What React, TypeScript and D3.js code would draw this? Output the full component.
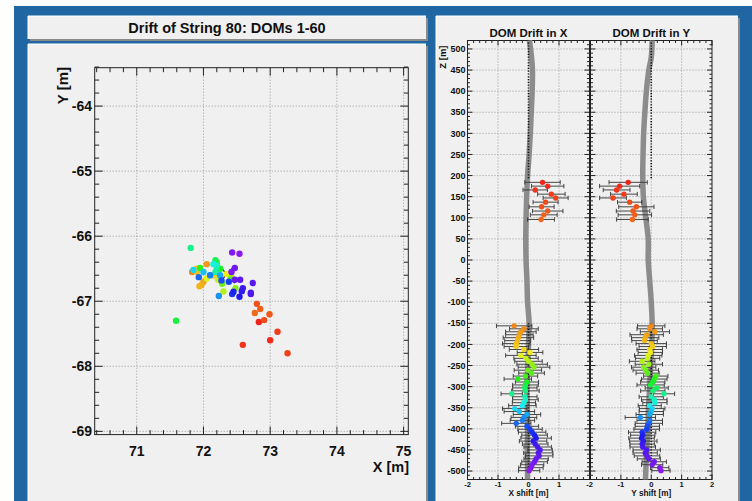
import React, { useEffect, useRef } from 'react';
import * as d3 from 'd3';

// DOM depths (z, metres): 10 upper DeepCore DOMs, then 50 lower ones
const domZ = [
  184, 175, 166, 156, 147, 137, 126, 116, 107, 96,
  -156, -163, -170, -177, -184, -191, -198, -205, -212, -219,
  -226, -233, -240, -247, -254, -261, -268, -275, -282, -289,
  -296, -303, -310, -317, -324, -331, -338, -345, -352, -359,
  -366, -373, -380, -387, -394, -401, -408, -415, -422, -429,
  -436, -443, -450, -457, -464, -471, -478, -485, -492, -499,
];

const xShift = [
  0.46, 0.63, 0.22, 0.75, 0.89, 0.56, 0.43, 0.63, 0.5, 0.41,
  -0.47, -0.15, -0.25, -0.3, -0.33, -0.36, -0.4, -0.4, -0.15, 0.05,
  -0.25, -0.08, 0.0, 0.12, 0.18, -0.02, 0.1, -0.1, -0.35, -0.05,
  -0.1, -0.12, -0.1, -0.55, -0.12, -0.1, -0.15, -0.2, -0.45, -0.3,
  -0.05, -0.15, -0.2, -0.4, -0.05, 0.05, 0.12, 0.2, 0.25, 0.15,
  0.22, 0.3, 0.38, 0.32, 0.35, 0.25, 0.2, 0.12, 0.08, 0.02,
];
const xErr = [
  0.58, 0.53, 0.4, 0.45, 0.41, 0.41, 0.41, 0.5, 0.44, 0.44,
  0.58, 0.47, 0.5, 0.45, 0.5, 0.42, 0.45, 0.4, 0.48, 0.42,
  0.5, 0.4, 0.45, 0.5, 0.52, 0.45, 0.42, 0.4, 0.45, 0.38,
  0.42, 0.4, 0.45, 0.35, 0.4, 0.42, 0.38, 0.45, 0.4, 0.5,
  0.45, 0.42, 0.4, 0.48, 0.38, 0.4, 0.45, 0.42, 0.5, 0.45,
  0.42, 0.45, 0.4, 0.48, 0.45, 0.4, 0.42, 0.38, 0.4, 0.35,
];
const yShift = [
  -0.76, -1.04, -1.14, -0.9, -1.26, -0.71, -0.49, -0.6, -0.54, -0.62,
  0.0, -0.05, 0.12, -0.15, -0.2, -0.22, 0.0, 0.05, -0.05, -0.03,
  -0.1, -0.12, -0.3, -0.08, -0.25, -0.18, -0.12, 0.15, 0.1, 0.05,
  -0.02, 0.18, 0.05, 0.42, 0.0, 0.1, 0.12, -0.05, 0.03, 0.0,
  -0.05, -0.36, -0.05, -0.08, -0.13, -0.15, -0.3, -0.28, -0.32, -0.26,
  -0.3, -0.28, -0.15, -0.2, -0.14, -0.08, 0.1, 0.03, 0.28, 0.32,
];
const yErr = [
  0.63, 0.66, 0.44, 0.44, 0.44, 0.4, 0.58, 0.55, 0.55, 0.52,
  0.45, 0.42, 0.48, 0.55, 0.45, 0.42, 0.5, 0.45, 0.42, 0.4,
  0.45, 0.4, 0.42, 0.45, 0.4, 0.42, 0.38, 0.4, 0.42, 0.4,
  0.45, 0.38, 0.4, 0.35, 0.4, 0.42, 0.4, 0.38, 0.42, 0.4,
  0.45, 0.5, 0.42, 0.45, 0.4, 0.42, 0.45, 0.4, 0.42, 0.45,
  0.4, 0.42, 0.45, 0.4, 0.42, 0.38, 0.4, 0.35, 0.3, 0.3,
];

// absolute DOM positions for the top view
const posX = [
  72.83, 73.0, 72.59, 73.11, 73.26, 72.91, 72.8, 72.99, 72.85, 72.77,
  71.83, 72.15, 72.05, 72.0, 71.97, 71.94, 71.9, 71.9, 72.15, 72.35,
  72.05, 72.22, 72.3, 72.42, 72.48, 72.28, 72.4, 72.2, 71.95, 72.25,
  71.59, 72.18, 72.2, 71.81, 72.18, 72.2, 72.15, 72.1, 71.85, 72.0,
  72.25, 72.23, 72.1, 71.93, 72.27, 72.38, 72.43, 72.45, 72.54, 72.575,
  72.59, 72.71, 72.71, 72.74, 72.55, 72.47, 72.47, 72.42, 72.43, 72.54,
];
const posY = [
  -67.32, -67.6, -67.67, -67.47, -67.8, -67.29, -67.04, -67.2, -67.12, -67.18,
  -66.55, -66.6, -66.43, -66.7, -66.75, -66.77, -66.55, -66.5, -66.6, -66.58,
  -66.65, -66.67, -66.85, -66.63, -66.8, -66.73, -66.67, -66.4, -66.49, -66.5,
  -67.3, -66.37, -66.5, -66.18, -66.55, -66.45, -66.43, -66.6, -66.52, -66.55,
  -66.6, -66.92, -66.6, -66.63, -66.68, -66.7, -66.89, -66.855, -66.93, -66.845,
  -66.8, -66.89, -66.87, -66.72, -66.67, -66.67, -66.49, -66.55, -66.25, -66.27,
];
const nominalXY = [72.35, -66.585];

// fitted string shape (grey band)
const bandZ = [520, 480, 450, 400, 350, 300, 250, 200, 150, 100, 50, 0, -50, -100, -150, -200, -250, -300, -350, -400, -450, -500, -520];
const bandX = [0.03, 0.1, 0.13, 0.12, 0.09, 0.06, 0.02, -0.03, -0.06, -0.08, -0.09, -0.08, -0.05, -0.03, 0.02, 0.0, -0.02, -0.05, -0.04, -0.03, -0.04, -0.03, -0.03];
const bandY = [0.03, 0.0, -0.08, -0.16, -0.21, -0.25, -0.27, -0.28, -0.26, -0.18, -0.1, -0.1, -0.05, 0.0, 0.03, 0.02, -0.02, -0.05, -0.09, -0.11, -0.15, -0.18, -0.19];

const leftXTicks = [71, 72, 73, 74, 75];
const leftYTicks = [-64, -65, -66, -67, -68, -69];
const zTicks = [500, 450, 400, 350, 300, 250, 200, 150, 100, 50, 0, -50, -100, -150, -200, -250, -300, -350, -400, -450, -500];
const shiftTicksX = [-2, -1, 0, 1];
const shiftTicksY = [-2, -1, 0, 1, 2];

const FONT = "'Liberation Sans', Arial, Helvetica, sans-serif";
const PAD = '#f0f0f0';

const hue = d3.scaleLinear()
  .domain([0, 9, 10, 18, 28, 36, 44, 50, 59])
  .range([3, 22, 30, 52, 115, 175, 225, 250, 272]);
const domColor = (i: number) => d3.hsl(hue(i), 0.88, 0.52).formatHex();

const App: React.FC = () => {
  const svgRef = useRef<SVGSVGElement>(null);

  useEffect(() => {
    if (!svgRef.current) return;
    const svg = d3.select(svgRef.current);
    svg.selectAll('*').remove();

    // canvas background
    svg.append('rect').attr('width', 752).attr('height', 501).attr('fill', '#fff');
    svg.append('rect').attr('x', 14).attr('y', 6).attr('width', 738).attr('height', 495).attr('fill', '#1f66a3');

    const pane = (x: number, y: number, w: number, h: number) => {
      svg.append('rect').attr('x', x + 2).attr('y', y + 2).attr('width', w).attr('height', h).attr('fill', '#8a8a8a');
      svg.append('rect').attr('x', x).attr('y', y).attr('width', w).attr('height', h).attr('fill', PAD);
      svg.append('path').attr('d', `M${x},${y + h}V${y}H${x + w}`).attr('stroke', '#fff').attr('fill', 'none');
    };
    pane(28, 16, 398, 23);
    pane(28, 44, 398, 470);
    pane(436, 16, 302, 500);

    svg.append('text').attr('x', 227).attr('y', 33).attr('text-anchor', 'middle')
      .attr('font-family', FONT).attr('font-weight', 'bold').attr('font-size', 14.5).attr('fill', '#111')
      .text('Drift of String 80: DOMs 1-60');

    // ---------- left: top view ----------
    const lx = d3.scaleLinear().domain([70.37, 75.07]).range([94.7, 408.3]);
    const ly = d3.scaleLinear().domain([-69.05, -63.41]).range([434.6, 67.7]);
    const L = svg.append('g');
    const [x0, x1] = lx.range();
    const [y1, y0] = ly.range();

    leftXTicks.forEach(t => {
      L.append('line').attr('x1', lx(t)).attr('x2', lx(t)).attr('y1', y0).attr('y2', y1)
        .attr('stroke', '#999').attr('stroke-dasharray', '1,2');
    });
    leftYTicks.forEach(t => {
      L.append('line').attr('x1', x0).attr('x2', x1).attr('y1', ly(t)).attr('y2', ly(t))
        .attr('stroke', '#999').attr('stroke-dasharray', '1,2');
    });

    const minorX = d3.range(352, 376).map(v => v / 5);
    const minorY = d3.range(-345, -316).map(v => v / 5);
    minorX.forEach(t => {
      const len = Number.isInteger(Math.round(t * 1000) / 1000) ? 8 : 4.5;
      L.append('line').attr('x1', lx(t)).attr('x2', lx(t)).attr('y1', y1).attr('y2', y1 - len).attr('stroke', '#222');
      L.append('line').attr('x1', lx(t)).attr('x2', lx(t)).attr('y1', y0).attr('y2', y0 + len).attr('stroke', '#222');
    });
    minorY.forEach(t => {
      const len = Number.isInteger(Math.round(t * 1000) / 1000) ? 8 : 4.5;
      L.append('line').attr('y1', ly(t)).attr('y2', ly(t)).attr('x1', x0).attr('x2', x0 + len).attr('stroke', '#222');
      L.append('line').attr('y1', ly(t)).attr('y2', ly(t)).attr('x1', x1).attr('x2', x1 - len).attr('stroke', '#222');
    });
    L.append('rect').attr('x', x0).attr('y', y0).attr('width', x1 - x0).attr('height', y1 - y0)
      .attr('fill', 'none').attr('stroke', '#222');

    leftXTicks.forEach(t => {
      L.append('text').attr('x', lx(t)).attr('y', 456).attr('text-anchor', 'middle')
        .attr('font-family', FONT).attr('font-weight', 'bold').attr('font-size', 14).attr('fill', '#111').text(t);
    });
    leftYTicks.forEach(t => {
      L.append('text').attr('x', 92).attr('y', ly(t)).attr('dy', '0.36em').attr('text-anchor', 'end')
        .attr('font-family', FONT).attr('font-weight', 'bold').attr('font-size', 14).attr('fill', '#111').text(t);
    });
    L.append('text').attr('x', 409).attr('y', 472).attr('text-anchor', 'end')
      .attr('font-family', FONT).attr('font-weight', 'bold').attr('font-size', 14.5).attr('fill', '#111').text('X [m]');
    L.append('text').attr('transform', 'translate(68,67) rotate(-90)').attr('text-anchor', 'end')
      .attr('font-family', FONT).attr('font-weight', 'bold').attr('font-size', 15).attr('fill', '#111').text('Y [m]');

    // nominal string position
    const cx = lx(nominalXY[0]);
    const cy = ly(nominalXY[1]);
    L.append('path').attr('d', `M${cx - 8},${cy - 9}L${cx + 8},${cy + 9}M${cx - 8},${cy + 9}L${cx + 8},${cy - 9}`)
      .attr('stroke', '#444').attr('stroke-width', 1.2);

    L.selectAll('circle.dom').data(d3.range(posX.length)).enter().append('circle')
      .attr('cx', i => lx(posX[i])).attr('cy', i => ly(posY[i])).attr('r', 3.2)
      .attr('fill', i => domColor(i));

    // ---------- right: drift vs depth ----------
    const z = d3.scaleLinear().domain([-520, 520]).range([479.5, 40.5]);
    const frames = [
      { sx: d3.scaleLinear().domain([-2, 2]).range([467.5, 589.5]), shift: xShift, err: xErr, band: bandX, ticks: shiftTicksX, title: 'DOM Drift in X', label: 'X shift [m]' },
      { sx: d3.scaleLinear().domain([-2, 2]).range([590.5, 712]), shift: yShift, err: yErr, band: bandY, ticks: shiftTicksY, title: 'DOM Drift in Y', label: 'Y shift [m]' },
    ];
    const zMinor = d3.range(-52, 53).map(v => v * 10);
    const sMinor = d3.range(-10, 11).map(v => v / 5);

    frames.forEach((f, fi) => {
      const g = svg.append('g');
      const [a, b] = f.sx.range();
      const top = z(520);
      const bot = z(-520);

      [-1, 0, 1].forEach(t => {
        g.append('line').attr('x1', f.sx(t)).attr('x2', f.sx(t)).attr('y1', top).attr('y2', bot)
          .attr('stroke', '#999').attr('stroke-dasharray', '1,2');
      });
      zTicks.forEach(t => {
        g.append('line').attr('x1', a).attr('x2', b).attr('y1', z(t)).attr('y2', z(t))
          .attr('stroke', '#999').attr('stroke-dasharray', '1,2');
      });
      zMinor.forEach(t => {
        const len = t % 50 === 0 ? 5 : 2.5;
        g.append('line').attr('x1', a).attr('x2', a + len).attr('y1', z(t)).attr('y2', z(t)).attr('stroke', '#222');
        g.append('line').attr('x1', b).attr('x2', b - len).attr('y1', z(t)).attr('y2', z(t)).attr('stroke', '#222');
      });
      sMinor.forEach(t => {
        const len = Number.isInteger(Math.round(t * 100) / 100) ? 5 : 2.5;
        g.append('line').attr('x1', f.sx(t)).attr('x2', f.sx(t)).attr('y1', top).attr('y2', top + len).attr('stroke', '#222');
        g.append('line').attr('x1', f.sx(t)).attr('x2', f.sx(t)).attr('y1', bot).attr('y2', bot - len).attr('stroke', '#222');
      });
      g.append('rect').attr('x', a).attr('y', top).attr('width', b - a).attr('height', bot - top)
        .attr('fill', 'none').attr('stroke', '#222');

      // fitted string shape
      const line = d3.line<number>().x(i => f.sx(f.band[i])).y(i => z(bandZ[i])).curve(d3.curveCatmullRom);
      g.append('path').attr('d', line(d3.range(bandZ.length))).attr('fill', 'none')
        .attr('stroke', '#8c8c8c').attr('stroke-width', 5.5);

      // reference positions (dotted)
      [[190, 515], [-500, -150]].forEach(([lo, hi]) => {
        g.append('line').attr('x1', f.sx(0)).attr('x2', f.sx(0)).attr('y1', z(hi)).attr('y2', z(lo))
          .attr('stroke', '#111').attr('stroke-width', 1.6).attr('stroke-dasharray', '1.2,1.6');
      });

      const idx = d3.range(domZ.length);
      const eb = g.append('g').attr('stroke', '#333').attr('stroke-width', 0.9);
      idx.forEach(i => {
        const yy = z(domZ[i]);
        const l = f.sx(f.shift[i] - f.err[i]);
        const r = f.sx(f.shift[i] + f.err[i]);
        eb.append('line').attr('x1', l).attr('x2', r).attr('y1', yy).attr('y2', yy);
        eb.append('line').attr('x1', l).attr('x2', l).attr('y1', yy - 2.2).attr('y2', yy + 2.2);
        eb.append('line').attr('x1', r).attr('x2', r).attr('y1', yy - 2.2).attr('y2', yy + 2.2);
      });
      g.selectAll('circle.dom').data(idx).enter().append('circle')
        .attr('cx', i => f.sx(f.shift[i])).attr('cy', i => z(domZ[i])).attr('r', 2.7)
        .attr('fill', i => domColor(i));

      f.ticks.forEach(t => {
        g.append('text').attr('x', f.sx(t) - (fi === 1 && t === -2 ? 1 : 0)).attr('y', 486.5).attr('text-anchor', 'middle')
          .attr('font-family', FONT).attr('font-weight', 'bold').attr('font-size', 7.5).attr('fill', '#111').text(t);
      });
      g.append('text').attr('x', f.sx(0)).attr('y', 496).attr('text-anchor', 'middle')
        .attr('font-family', FONT).attr('font-weight', 'bold').attr('font-size', 8.2).attr('fill', '#111').text(f.label);
      g.append('text').attr('x', f.sx(0)).attr('y', 37).attr('text-anchor', 'middle')
        .attr('font-family', FONT).attr('font-weight', 'bold').attr('font-size', 11.5).attr('fill', '#111').text(f.title);

      if (fi === 0) {
        zTicks.forEach(t => {
          g.append('text').attr('x', a - 2).attr('y', z(t)).attr('dy', '0.35em').attr('text-anchor', 'end')
            .attr('font-family', FONT).attr('font-weight', 'bold').attr('font-size', 9).attr('fill', '#111').text(t);
        });
        g.append('text').attr('transform', `translate(446,${top + 5}) rotate(-90)`).attr('text-anchor', 'end')
          .attr('font-family', FONT).attr('font-weight', 'bold').attr('font-size', 9.5).attr('fill', '#111').text('Z [m]');
      }
    });
  }, []);

  return (
    <svg ref={svgRef} width={752} height={501} style={{ position: 'absolute', left: 0, top: 0 }} />
  );
};

export default App;
